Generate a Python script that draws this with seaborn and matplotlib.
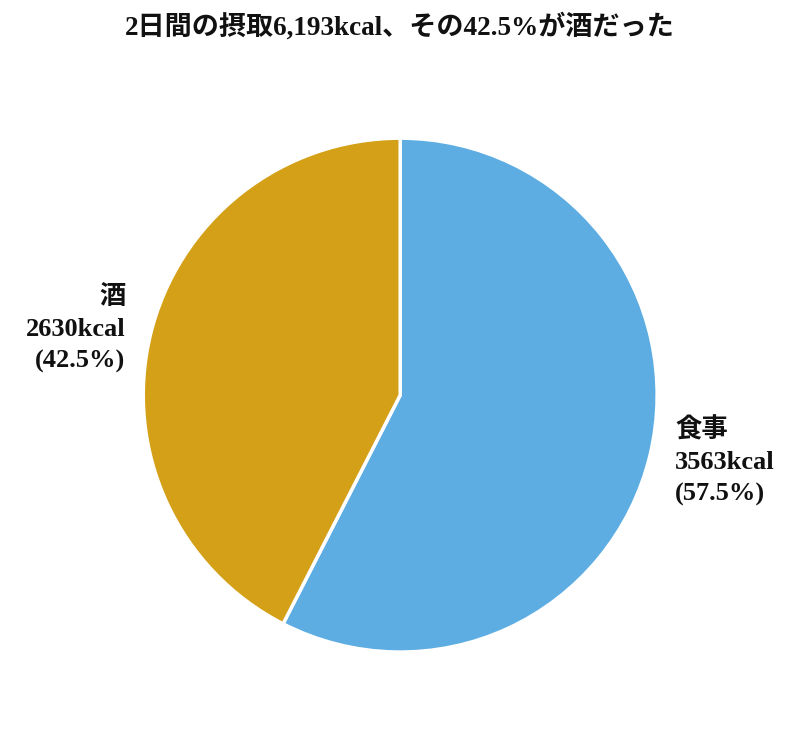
import matplotlib
matplotlib.use("Agg")
import matplotlib.pyplot as plt
import seaborn as sns

categories = ["食事", "酒"]
kcal = [3563, 2630]
shares = [57.5, 42.5]
colors = ["#5DADE2", "#D4A017"]
title = "2日間の摂取6,193kcal、その42.5%が酒だった"

sns.set_theme(style="white")
plt.rcParams['font.family'] = ['Liberation Serif', 'Noto Sans CJK JP', 'DejaVu Sans']

fig = plt.figure(figsize=(8, 7.31), dpi=100)
ax = fig.add_axes([0.179, 0.108, 0.6425, 0.703])

labels = [f"{c}\n{k}kcal\n({s}%)" for c, k, s in zip(categories, kcal, shares)]
wedges, texts = ax.pie(kcal, labels=labels, colors=colors, startangle=90,
                       counterclock=False, labeldistance=1.1,
                       wedgeprops=dict(edgecolor="white", linewidth=2.5),
                       textprops=dict(fontsize=19, color="#111111",
                                      fontweight="bold", linespacing=1.47))
ax.set_xlim(-1, 1)
ax.set_ylim(-1, 1)
ax.set_aspect("equal")

fig.text(0.5, 1 - 27 / 731, title, ha="center", va="center",
         fontsize=19.5, fontweight="bold", color="#111111")

fig.savefig("out.png", dpi=100)
